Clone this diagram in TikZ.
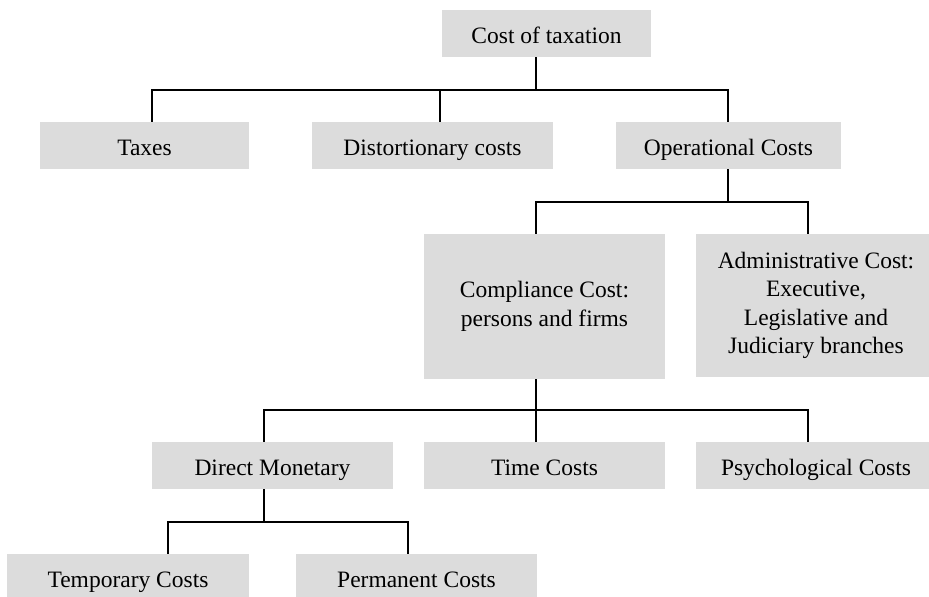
\documentclass[tikz,border=0pt]{standalone}
\usepackage{fontspec}
\setmainfont{Liberation Serif}
\definecolor{boxgray}{RGB}{220,220,220}
\begin{document}
\begin{tikzpicture}[x=1pt,y=-1pt,
  mbox/.style={fill=boxgray, draw=none, inner sep=0pt, minimum height=47pt,
    align=center, font=\fontsize{23.5}{28.5}\selectfont},
  box/.style={mbox, text height=22pt, text depth=3pt},
  link/.style={draw=black, line width=1.6pt}]
\useasboundingbox (0,0) rectangle (929,597);
\clip (0,0) rectangle (929,597);
% level 0
\node[box, minimum width=209pt] (cost) at (546.5,33.5) {Cost of taxation};
% level 1
\node[box, minimum width=209pt] (tax) at (144.5,145.5) {Taxes};
\node[box, minimum width=241pt] (dist) at (432.5,145.5) {Distortionary costs};
\node[box, minimum width=225pt] (op) at (728.5,145.5) {Operational Costs};
% level 2
\node[mbox, minimum width=241pt, minimum height=145pt] (comp) at (544.5,306.5) {Compliance Cost:\\persons and firms};
\node[mbox, minimum width=240pt, minimum height=143pt] (adm) at (816,305.5) {Administrative Cost:\\Executive,\\Legislative and\\Judiciary branches};
% level 3
\node[box, minimum width=241pt] (dm) at (272.5,465.5) {Direct Monetary};
\node[box, minimum width=241pt] (time) at (544.5,465.5) {Time Costs};
\node[box, minimum width=240pt] (psy) at (816,465.5) {Psychological Costs};
% level 4
\node[box, minimum width=242pt] (temp) at (128,577.5) {Temporary Costs};
\node[box, minimum width=241pt] (perm) at (416.5,577.5) {Permanent Costs};
% connectors
\coordinate (j0) at (536,90);
\draw[link] (cost.south -| j0) -- (j0);
\draw[link] (tax.north -| 152,0) -- (152,90) -- (728,90) -- (op.north -| 728,0);
\draw[link] (dist.north -| 440,0) -- (440,90);
\coordinate (j1) at (728,202);
\draw[link] (op.south -| j1) -- (j1);
\draw[link] (comp.north -| 536,0) -- (536,202) -- (808,202) -- (adm.north -| 808,0);
\coordinate (j2) at (536,410);
\draw[link] (comp.south -| j2) -- (j2);
\draw[link] (dm.north -| 264,0) -- (264,410) -- (808,410) -- (psy.north -| 808,0);
\draw[link] (time.north -| 536,0) -- (536,410);
\coordinate (j3) at (264,522);
\draw[link] (dm.south -| j3) -- (j3);
\draw[link] (temp.north -| 168,0) -- (168,522) -- (408,522) -- (perm.north -| 408,0);
\end{tikzpicture}
\end{document}
